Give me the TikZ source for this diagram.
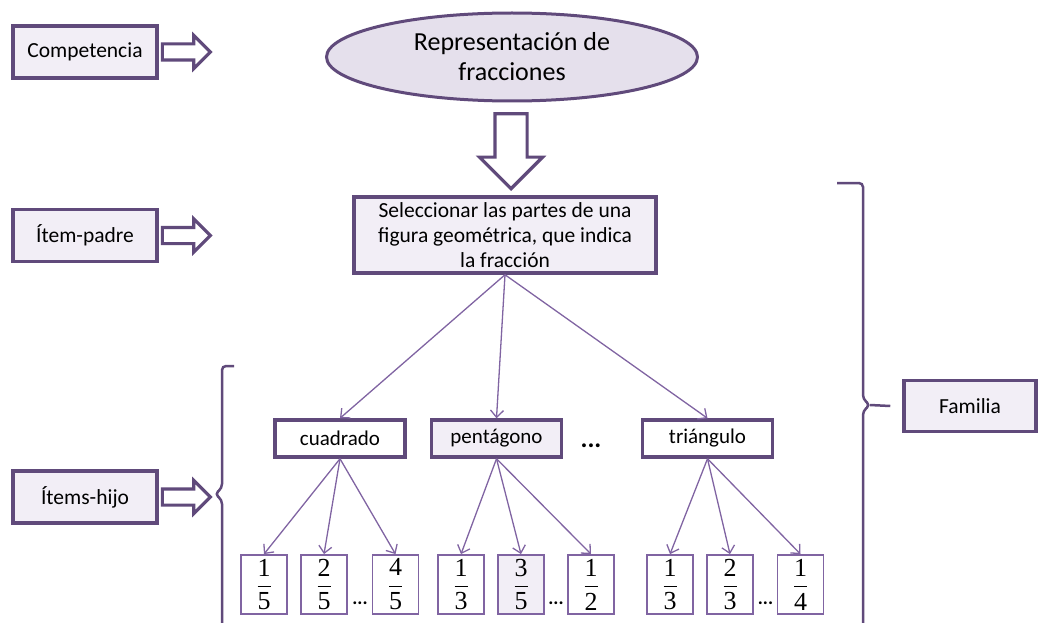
\documentclass[tikz,border=0pt]{standalone}
\usepackage{amsmath}
\usepackage{fontspec}
\setmainfont{Carlito}
\newfontfamily\fracfont{Liberation Serif}
\usepackage{tikz}
\usetikzlibrary{positioning,arrows.meta,shapes.geometric,shapes.arrows}

\definecolor{morado}{HTML}{604A7B}
\definecolor{moradoclaro}{HTML}{8064A2}
\definecolor{lila}{HTML}{F2EEF6}
\definecolor{lilaosc}{HTML}{E5E0EC}

\tikzset{
  etiqueta/.style={draw=morado, line width=3.5pt, fill=lila, minimum width=144, minimum height=52,
    inner sep=0pt, font=\fontsize{21.5}{25}\selectfont},
  hueca/.style={single arrow, draw=morado, line width=3.2pt, fill=white, minimum height=48,
    inner xsep=0pt, inner ysep=6.5pt, single arrow head extend=8.5},
  tipo/.style={draw=morado, line width=3.5pt, fill=white, minimum width=130, minimum height=37,
    inner sep=0pt, font=\fontsize{21}{25}\selectfont},
  fracbox/.style={draw=moradoclaro, line width=1.8pt, minimum width=46, minimum height=59,
    inner sep=0pt, font=\fracfont\fontsize{26}{30}\selectfont},
  flecha/.style={draw=moradoclaro, line width=1.3pt, -{Straight Barb[length=7pt,width=13pt]}},
  llave/.style={draw=morado, line width=2.5pt, rounded corners=4pt},
  puntos/.style={font=\fontsize{19}{21}\selectfont\bfseries, inner sep=0pt}
}

\begin{document}
\begin{tikzpicture}[x=1pt,y=-1pt]
        \useasboundingbox (0,0) rectangle (1038,623);

        %ETIQUETAS
        \node[etiqueta] (comp) at (85,52) {Competencia};
        \node[etiqueta] (padreLbl) at (85,235.5) {Ítem-padre};
        \node[etiqueta] (hijoLbl) at (85,497) {Ítems-hijo};
        \node[etiqueta, minimum width=132, minimum height=51] (fam) at (970,406) {Familia};

        \node[hueca, right=2pt of comp] (compFl) {};
        \node[hueca, right=2pt of padreLbl] (padreFl) {};
        \node[hueca, right=2pt of hijoLbl] (hijoFl) {};

        %COMPETENCIA
        \node[ellipse, draw=morado, line width=3pt, fill=lilaosc, minimum width=371, minimum height=88,
            inner sep=0pt, align=center, font=\fontsize{26}{30}\selectfont] (ell) at (512,57)
            {Representación de\\fracciones};
        \node[hueca, shape border rotate=270, minimum height=75, inner xsep=14.5pt, inner ysep=14.5pt,
            single arrow head extend=15.5, anchor=tip] (bajar) at (511,191) {};

        %ITEM PADRE
        \node[draw=morado, line width=3.5pt, fill=lila, minimum width=302, minimum height=76, inner sep=0pt,
            align=center, font=\fontsize{21.5}{25}\selectfont] (padre) at (505,235)
            {Seleccionar las partes de una\\figura geométrica, que indica\\la fracción};

        %ITEMS HIJO
        \node[tipo] (cuad) at (340,438.5) {cuadrado};
        \node[tipo, fill=lila] (pent) at (496.5,438.5) {pentágono};
        \node[tipo] (tri) at (707.5,438.5) {triángulo};
        \node[font=\fontsize{26}{28}\selectfont\bfseries, inner sep=0pt] (dots) at (591,446) {...};

        \foreach \h in {cuad,pent,tri}
            \draw[flecha] (padre.south) -- (\h.north);

        %FRACCIONES
        \foreach \nom/\x/\num/\den/\col in {a1/264/1/5/white, a2/324/2/5/white, a3/395.5/4/5/white,
                b1/461/1/3/white, b2/521/3/5/lila, b3/591/1/2/white,
                c1/670/1/3/white, c2/730/2/3/white, c3/800.5/1/4/white}
            \node[fracbox, fill=\col] (\nom) at (\x,584.5) {$\dfrac{\mbox{\num}}{\mbox{\den}}$};

        \node[puntos] (d1) at (360,603) {...};
        \node[puntos] (d2) at (556,603) {...};
        \node[puntos] (d3) at (765.5,603) {...};

        \foreach \h in {a1,a2,a3}
            \draw[flecha] (cuad.south) -- (\h.north);
        \foreach \h in {b1,b2,b3}
            \draw[flecha] (pent.south) -- (\h.north);
        \foreach \h in {c1,c2,c3}
            \draw[flecha] (tri.south) -- (\h.north);

        %LLAVES
        \draw[llave] (234,366) -- (222,366) -- (222,488) -- (215,494) -- (222,500) -- (222,623);
        \draw[llave] (837,183) -- (863,183) -- (863,399) -- (870,405) -- (863,411) -- (863,623);
        \coordinate (puntaR) at (870,405);
        \draw[llave] (puntaR) -- ([xshift=-12pt]fam.west);
\end{tikzpicture}
\end{document}
